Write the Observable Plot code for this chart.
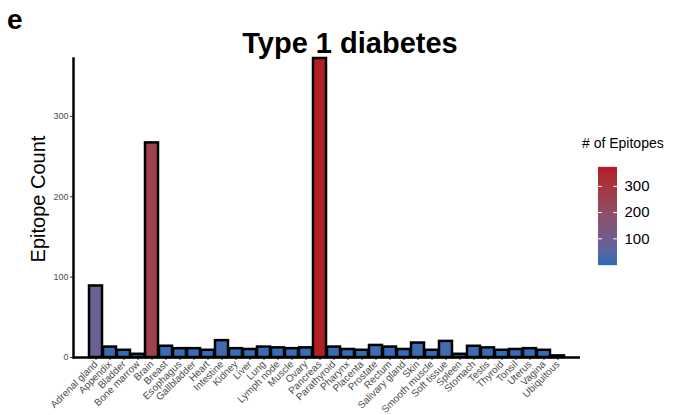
<!DOCTYPE html>
<html>
<head>
<meta charset="utf-8">
<script src="https://cdn.jsdelivr.net/npm/d3@7"></script>
<script src="https://cdn.jsdelivr.net/npm/@observablehq/plot@0.6"></script>
<style>
  html, body { margin: 0; padding: 0; background: #fff; }
  #wrap { position: relative; width: 677px; height: 415px; font-family: "Liberation Sans", Arial, Helvetica, sans-serif; }
  #wrap > div, #wrap > svg { position: absolute; }
  .panel { left: 7px; top: 6px; font-size: 28px; line-height: 1; font-weight: bold; }
  .title { left: 0; width: 700px; text-align: center; top: 29px; font-size: 29px; line-height: 1; font-weight: bold; }
  .ltitle { left: 582px; top: 136px; font-size: 14px; line-height: 1; }
</style>
</head>
<body>
<div id="wrap">
  <div class="panel">e</div>
  <div class="title">Type 1 diabetes</div>
  <div class="ltitle"># of Epitopes</div>
</div>
<script>
const tissues = ["Adrenal gland","Appendix","Bladder","Bone marrow","Brain","Breast","Esophagus","Gallbladder","Heart","Intestine","Kidney","Liver","Lung","Lymph node","Muscle","Ovary","Pancreas","Parathyroid","Pharynx","Placenta","Prostate","Rectum","Salivary gland","Skin","Smooth muscle","Soft tissue","Spleen","Stomach","Testis","Thyroid","Tonsil","Uterus","Vagina","Ubiquitous"];
const counts = [89,13,9,4,267,14,11,11,9,21,11,10,13,12,11,12,372,13,10,9,15,13,10,18,9,20,4,14,12,9,10,11,9,2];
const yTicks = [0,100,200,300];
const legendTicks = [100,200,300];
const yLabel = ["Epitope Count"];
const lowColor = "#2C6EB8", highColor = "#B21F26";

const data = tissues.map((t, i) => ({tissue: t, count: counts[i]}));
const cmin = d3.min(counts), cmax = d3.max(counts);
const colorOpts = {type: "linear", domain: [cmin, cmax], range: [lowColor, highColor], interpolate: "lab"};

const chart = Plot.plot({
  width: 677, height: 415,
  marginLeft: 73, marginRight: 97, marginTop: 58, marginBottom: 58,
  style: {fontFamily: "'Liberation Sans', Arial, sans-serif", fontSize: "9px", color: "#4d4d4d", background: "transparent"},
  x: {domain: tissues, paddingInner: 0.1, paddingOuter: 0.2, label: null},
  y: {domain: [0, cmax], label: null},
  color: colorOpts,
  marks: [
    Plot.barY(data, {x: "tissue", y: "count", fill: "count", stroke: "black", strokeWidth: 2.5}),
    Plot.axisX({tickRotate: -45, tickSize: 3, tickPadding: 2, fontSize: 10, stroke: "#333", fill: "#4d4d4d", label: null}),
    Plot.axisY({ticks: yTicks, tickSize: 3, tickPadding: 2, fontSize: 9, stroke: "#333", fill: "#4d4d4d", label: null}),
    Plot.ruleY([0], {stroke: "black", strokeWidth: 2.5}),
    Plot.frame({anchor: "left", stroke: "black", strokeWidth: 2.5}),
    Plot.text(yLabel, {frameAnchor: "left", textAnchor: "middle", rotate: -90, dx: -35, dy: -9, fontSize: 20, fill: "black"})
  ]
});
chart.style.left = "0px"; chart.style.top = "0px";
document.getElementById("wrap").appendChild(chart);

// vertical colorbar legend
const steps = d3.range(cmin, cmax + 0.5, 1);
const legend = Plot.plot({
  width: 80, height: 115,
  marginLeft: 8, marginRight: 53, marginTop: 7, marginBottom: 11,
  style: {fontFamily: "'Liberation Sans', Arial, sans-serif", background: "transparent"},
  x: {domain: [0, 1], axis: null},
  y: {domain: [cmin, cmax], axis: null},
  color: colorOpts,
  marks: [
    Plot.ruleY(steps, {y: d => d, x1: 0, x2: 1, stroke: d => d, strokeWidth: 1.3}),
    Plot.ruleY(legendTicks, {y: d => d, x1: 0, x2: 0.2, stroke: "white", strokeWidth: 1}),
    Plot.ruleY(legendTicks, {y: d => d, x1: 0.8, x2: 1, stroke: "white", strokeWidth: 1}),
    Plot.text(legendTicks, {y: d => d, x: 1, dx: 7, textAnchor: "start", fontSize: 15, fill: "black"})
  ]
});
legend.style.left = "590px"; legend.style.top = "160px";
document.getElementById("wrap").appendChild(legend);
</script>
</body>
</html>
